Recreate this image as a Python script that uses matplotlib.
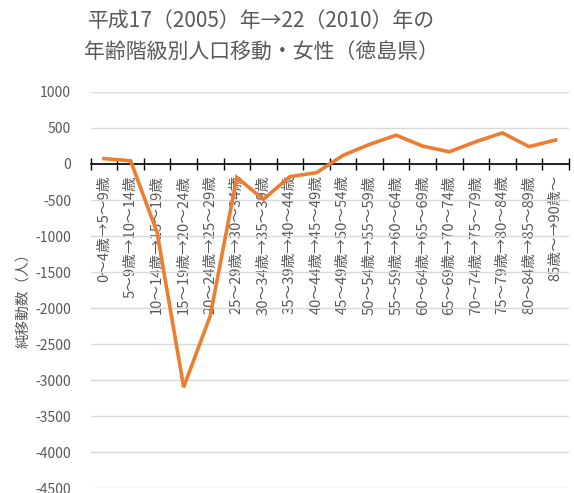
import matplotlib
matplotlib.use("Agg")
import matplotlib.pyplot as plt

plt.rcParams['font.family'] = ['Noto Sans CJK JP', 'DejaVu Sans']

categories = [
    "0～4歳→5～9歳", "5～9歳→10～14歳", "10～14歳→15～19歳", "15～19歳→20～24歳",
    "20～24歳→25～29歳", "25～29歳→30～34歳", "30～34歳→35～39歳", "35～39歳→40～44歳",
    "40～44歳→45～49歳", "45～49歳→50～54歳", "50～54歳→55～59歳", "55～59歳→60～64歳",
    "60～64歳→65～69歳", "65～69歳→70～74歳", "70～74歳→75～79歳", "75～79歳→80～84歳",
    "80～84歳→85～89歳", "85歳～→90歳～",
]
values = [75, 45, -950, -3100, -2110, -185, -490, -176, -120, 120,
          273, 400, 248, 170, 310, 432, 241, 333]
yticks = list(range(-4500, 1001, 500))

title = "平成17（2005）年→22（2010）年の\n年齢階級別人口移動・女性（徳島県）"
ylabel = "純移動数（人）"

fig = plt.figure(figsize=(5.74, 4.93), dpi=100)
ax = fig.add_axes([0.158, 0.0101, 0.833, 0.8033])

x = list(range(len(categories)))
ax.plot(x, values, color="#ED7D31", linewidth=2.6, solid_joinstyle="miter", zorder=3)

ax.set_ylim(-4500, 1000)
ax.set_xlim(-0.5, len(categories) - 0.5)
ax.set_yticks(yticks)
ax.set_yticklabels([str(v) for v in yticks], color="#595959", fontsize=10)
ax.tick_params(axis="y", length=0, pad=14)
ax.yaxis.grid(True, color="#D9D9D9", linewidth=1)
ax.set_axisbelow(True)

for s in ["left", "right", "top"]:
    ax.spines[s].set_visible(False)
ax.spines["bottom"].set_position(("data", 0))
ax.spines["bottom"].set_color("black")
ax.spines["bottom"].set_linewidth(1.2)
ax.spines["bottom"].set_zorder(2)

ax.set_xticks([i - 0.5 for i in range(len(categories) + 1)], minor=False)
ax.set_xticklabels([])
ax.set_xticks(x, minor=True)
ax.set_xticklabels(categories, minor=True, rotation=90, ha="center", va="top",
                   color="#595959", fontsize=10.6)
ax.tick_params(axis="x", which="major", direction="inout", length=8, width=1, color="black")
ax.tick_params(axis="x", which="minor", length=0, pad=8)

fig.text(0.455, 0.926, title, ha="center", va="center", fontsize=15,
         color="#595959", linespacing=1.5)
fig.text(0.040, 0.398, ylabel, rotation=90, ha="center", va="center",
         fontsize=10.5, color="#595959")

fig.savefig("out.png", dpi=100)
